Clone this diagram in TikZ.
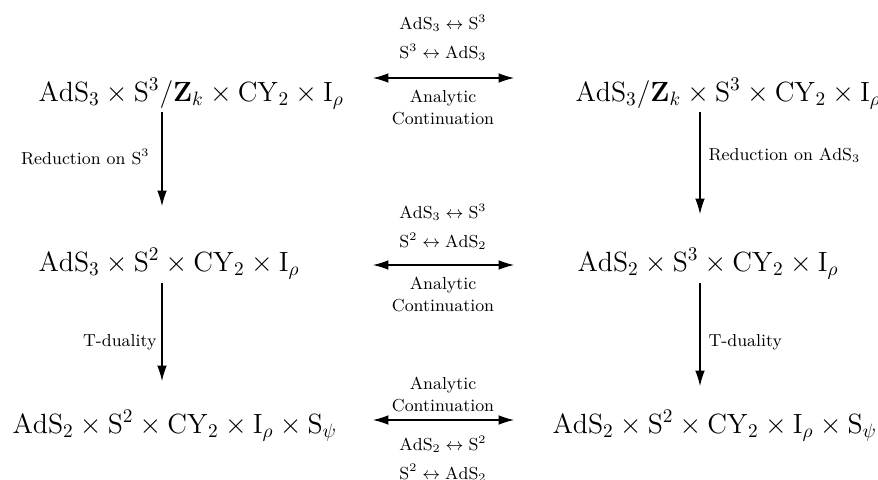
\documentclass[tikz,border=0pt]{standalone}
\usepackage{amsmath,amssymb}
\usetikzlibrary{arrows.meta}
\tikzset{
  geom/.style={font=\Large,inner sep=0pt},
  lbl/.style={font=\small,inner sep=0pt,align=center},
}
\newcommand{\AdS}{\mathrm{AdS}}
\newcommand{\Sph}{\mathrm{S}}

\begin{document}
\begin{tikzpicture}[x=0.518pt,y=-0.518pt,line width=0.55pt,>={Latex[length=8pt,width=5pt]}]
  \useasboundingbox (0,0) rectangle (878,479);

  % The six backgrounds.
  \node[geom,anchor=base west] (tl) at (38,101) {$\AdS_3\times\Sph^3/\mathbf{Z}_k\times\mathrm{CY}_2\times\mathrm{I}_\rho$};
  \node[geom,anchor=base west] (tr) at (575,101) {$\AdS_3/\mathbf{Z}_k\times\Sph^3\times\mathrm{CY}_2\times\mathrm{I}_\rho$};
  \node[geom,anchor=base west] (ml) at (38,271) {$\AdS_3\times\Sph^2\times\mathrm{CY}_2\times\mathrm{I}_\rho$};
  \node[geom,anchor=base west] (mr) at (577,271) {$\AdS_2\times\Sph^3\times\mathrm{CY}_2\times\mathrm{I}_\rho$};
  \node[geom,anchor=base west] (bl) at (12,433) {$\AdS_2\times\Sph^2\times\mathrm{CY}_2\times\mathrm{I}_\rho\times\Sph_\psi$};
  \node[geom,anchor=base west] (br) at (552,433) {$\AdS_2\times\Sph^2\times\mathrm{CY}_2\times\mathrm{I}_\rho\times\Sph_\psi$};

  % Analytic continuations between the columns.
  \coordinate (h1w) at (373,78);  \coordinate (h1e) at (514,78);
  \coordinate (h2w) at (373,265); \coordinate (h2e) at (514,265);
  \coordinate (h3w) at (373,420); \coordinate (h3e) at (514,420);
  \draw[<->] (h1w) -- (h1e);
  \draw[<->] (h2w) -- (h2e);
  \draw[<->] (h3w) -- (h3e);

  \node[lbl,anchor=south] (s1) at (443,61) {$\AdS_3\leftrightarrow\Sph^3$\\[4pt]$\Sph^3\leftrightarrow\AdS_3$};
  \node[lbl,anchor=north] (c1) at (443,90) {Analytic\\Continuation};
  \node[lbl,anchor=south] (s2) at (443,250) {$\AdS_3\leftrightarrow\Sph^3$\\[4pt]$\Sph^2\leftrightarrow\AdS_2$};
  \node[lbl,anchor=north] (c2) at (443,277) {Analytic\\Continuation};
  \node[lbl,anchor=south] (c3) at (443,412) {Analytic\\Continuation};
  \node[lbl,anchor=north] (s3) at (443,435) {$\AdS_2\leftrightarrow\Sph^2$\\[4pt]$\Sph^2\leftrightarrow\AdS_2$};

  % Reductions and T-dualities down each column.
  \coordinate (v1t) at (162,112); \coordinate (v1b) at (162,206);
  \coordinate (v2t) at (700,112); \coordinate (v2b) at (700,214);
  \coordinate (v3t) at (162,283); \coordinate (v3b) at (162,381);
  \coordinate (v4t) at (700,283); \coordinate (v4b) at (700,386);
  \draw[->] (v1t) -- (v1b);
  \draw[->] (v2t) -- (v2b);
  \draw[->] (v3t) -- (v3b);
  \draw[->] (v4t) -- (v4b);

  \node[lbl,anchor=east] (r1) at (150,157) {Reduction on $\Sph^3$};
  \node[lbl,anchor=west] (r2) at (708,155) {Reduction on $\AdS_3$};
  \node[lbl,anchor=east] (t1) at (157,342) {T-duality};
  \node[lbl,anchor=west] (t2) at (708,342) {T-duality};
\end{tikzpicture}
\end{document}
